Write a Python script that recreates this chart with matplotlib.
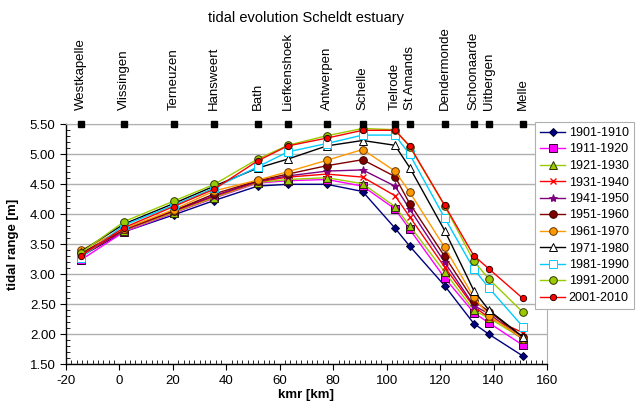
import matplotlib
matplotlib.use("Agg")
import matplotlib.pyplot as plt
from matplotlib.ticker import MultipleLocator, FormatStrFormatter

plt.rcParams['font.family'] = ['Liberation Sans', 'DejaVu Sans']
plt.rcParams['axes.unicode_minus'] = False

stations = ["Westkapelle", "Vlissingen", "Terneuzen", "Hansweert", "Bath", "Liefkenshoek",
            "Antwerpen", "Schelle", "Tielrode", "St Amands", "Dendermonde", "Schoonaarde",
            "Uitbergen", "Melle"]
kmr = [-14.4, 1.8, 20.3, 35.5, 51.7, 63.0, 77.6, 91.0, 103.1, 108.6, 121.7, 132.6, 138.3, 150.9]

labels = ["1901-1910", "1911-1920", "1921-1930", "1931-1940", "1941-1950", "1951-1960",
          "1961-1970", "1971-1980", "1981-1990", "1991-2000", "2001-2010"]

v1901 = [3.30, 3.71, 3.99, 4.23, 4.47, 4.50, 4.50, 4.38, 3.77, 3.47, 2.81, 2.18, 2.00, 1.64]
v1911 = [3.24, 3.71, 4.02, 4.27, 4.52, 4.56, 4.58, 4.47, 4.09, 3.75, 2.94, 2.36, 2.19, 1.82]
v1921 = [3.33, 3.73, 4.03, 4.28, 4.53, 4.58, 4.61, 4.51, 4.13, 3.81, 3.04, 2.40, 2.27, 1.93]
v1931 = [3.30, 3.74, 4.05, 4.30, 4.54, 4.62, 4.67, 4.62, 4.31, 3.96, 3.12, 2.46, 2.28, 2.03]
v1941 = [3.32, 3.74, 4.06, 4.31, 4.55, 4.64, 4.72, 4.74, 4.47, 4.09, 3.20, 2.48, 2.34, 1.92]
v1951 = [3.35, 3.75, 4.06, 4.34, 4.56, 4.67, 4.81, 4.91, 4.63, 4.18, 3.30, 2.56, 2.38, 1.95]
v1961 = [3.40, 3.76, 4.08, 4.39, 4.57, 4.71, 4.90, 5.08, 4.72, 4.37, 3.45, 2.62, 2.31, 1.93]
v1971 = [3.38, 3.84, 4.18, 4.47, 4.77, 4.92, 5.14, 5.23, 5.15, 4.78, 3.73, 2.73, 2.40, 1.96]
v1981 = [3.28, 3.82, 4.15, 4.44, 4.79, 5.04, 5.18, 5.32, 5.32, 5.00, 3.94, 3.09, 2.77, 2.13]
v1991 = [3.36, 3.88, 4.22, 4.50, 4.92, 5.15, 5.31, 5.43, 5.41, 5.13, 4.14, 3.22, 2.92, 2.37]
v2001 = [3.31, 3.78, 4.13, 4.42, 4.89, 5.14, 5.27, 5.40, 5.40, 5.14, 4.15, 3.31, 3.09, 2.60]

series = [v1901, v1911, v1921, v1931, v1941, v1951, v1961, v1971, v1981, v1991, v2001]

styles = [
    dict(color="#000080", marker="D", mfc="#000080", mec="#000033", ms=4),
    dict(color="#FF00FF", marker="s", mfc="#FF00FF", mec="#330033", ms=5.5),
    dict(color="#99CC00", marker="^", mfc="#99CC00", mec="#333300", ms=5.5),
    dict(color="#FF0000", marker="x", mfc="#FF0000", mec="#FF0000", ms=5, mew=1.0),
    dict(color="#800080", marker="*", mfc="#800080", mec="#800080", ms=6),
    dict(color="#800000", marker="o", mfc="#800000", mec="#330000", ms=5.5),
    dict(color="#FF9900", marker="o", mfc="#FF9900", mec="#663300", ms=5.5),
    dict(color="#000000", marker="^", mfc="white", mec="#000000", ms=5.5),
    dict(color="#00CCFF", marker="s", mfc="white", mec="#00CCFF", ms=5.5),
    dict(color="#99CC00", marker="o", mfc="#99CC00", mec="#333300", ms=5.5),
    dict(color="#FF0000", marker="o", mfc="#FF0000", mec="#330000", ms=4.5),
]

fig = plt.figure(figsize=(6.41, 4.05), dpi=100)
ax = fig.add_axes([66/641, 1-364.3/405, (547-66)/641, (364.3-124.3)/405])

for vals, lab, st in zip(series, labels, styles):
    mew = st.pop("mew", 0.7)
    ax.plot(kmr, vals, lw=1.0, label=lab, mew=mew, **st)

ax.set_xlim(-20, 160)
ax.set_ylim(1.5, 5.5)
ax.xaxis.set_major_locator(MultipleLocator(20))
ax.xaxis.set_minor_locator(MultipleLocator(2))
ax.yaxis.set_major_locator(MultipleLocator(0.5))
ax.yaxis.set_minor_locator(MultipleLocator(0.1))
ax.yaxis.set_major_formatter(FormatStrFormatter("%.2f"))
ax.grid(axis="y", which="major", color="#b0b0b0", lw=1.0)
ax.set_axisbelow(True)
ax.tick_params(which="major", direction="out", length=4, labelsize=9.5, width=0.8)
ax.tick_params(which="minor", direction="in", length=3, width=0.6)
for s in ["top", "right"]:
    ax.spines[s].set_color("#b0b0b0")
for s in ["left", "bottom"]:
    ax.spines[s].set_color("black")
    ax.spines[s].set_linewidth(1.0)

# station markers and labels
ax.plot(kmr, [5.5]*len(kmr), ls="none", marker="s", color="black", ms=5, clip_on=False, zorder=5)
for k, name in zip(kmr, stations):
    ax.annotate(name, xy=(k, 5.5), xytext=(0, 10), textcoords="offset points",
                rotation=90, ha="center", va="bottom", fontsize=9.5,
                annotation_clip=False)

ax.set_ylabel("tidal range [m]", fontsize=9.5, fontweight="bold", labelpad=8)
fig.text(0.478, 1-395/405, "kmr [km]", ha="center", va="center", fontsize=9.5, fontweight="bold")

fig.text(0.478, 0.955, "tidal evolution Scheldt estuary", ha="center", va="center", fontsize=10.5)

leg = fig.legend(loc="upper left", bbox_to_anchor=(535/641, 1-122/405), fontsize=9,
                 frameon=True, fancybox=False, edgecolor="#b0b0b0", framealpha=1,
                 labelspacing=0.36, handlelength=2.0, handletextpad=0.3,
                 borderpad=0.4, borderaxespad=0)
leg.get_frame().set_linewidth(0.8)

fig.savefig("out.png", dpi=100)
